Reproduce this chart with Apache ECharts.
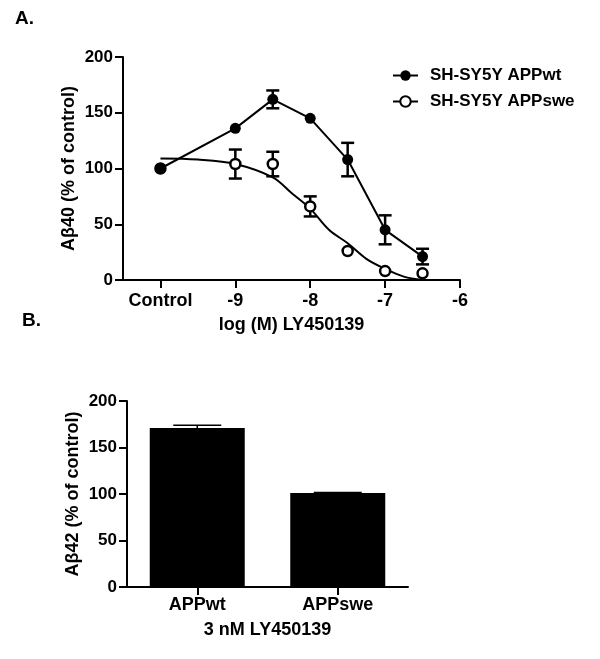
<!DOCTYPE html>
<html>
<head>
<meta charset="utf-8">
<script src="https://cdn.jsdelivr.net/npm/echarts@6/dist/echarts.min.js"></script>
<style>
html,body{margin:0;padding:0;background:#fff;}
#c{width:600px;height:659px;}
</style>
</head>
<body>
<div id="c"></div>
<script>
// ---- Panel A data ----
const tickValues = [-10, -9, -8, -7, -6];
const tickLabels = ['Control', '-9', '-8', '-7', '-6'];
const doseX = [-10, -9, -8.5, -8, -7.5, -7, -6.5];
const wtMean = [100, 136, 162, 145, 108, 45, 21];
const wtErr = [0, 0, 8, 0, 15, 13, 7];
const sweMean = [100, 104, 104, 66, 26, 8, 6];
const sweErr = [0, 13, 11, 9, 0, 0, 0];
const sweFitX = [-10, -9.5, -9, -8.5, -8.25, -8, -7.75, -7.5, -7.25, -7, -6.75, -6.5];
const sweFitY = [109, 108, 104, 92, 78, 64, 45, 33, 19, 10, 3, 0];

// ---- Panel B data ----
const barCats = ['APPwt', 'APPswe'];
const barMean = [171, 101];
const barErr = [3, 0.5];

const FONT = "'Liberation Sans', Arial, sans-serif";
const txt = {fontFamily: FONT, fontWeight: 'bold', color: '#000'};

function errRender(capW, lw, upOnly) {
  return function (params, api) {
    const x = api.value(0), lo = api.value(1), hi = api.value(2);
    const p1 = api.coord([x, lo]), p2 = api.coord([x, hi]);
    const st = {stroke: '#000', lineWidth: lw};
    const ch = [
      {type: 'line', shape: {x1: p1[0], y1: p1[1], x2: p2[0], y2: p2[1]}, style: st},
      {type: 'line', shape: {x1: p2[0] - capW / 2, y1: p2[1], x2: p2[0] + capW / 2, y2: p2[1]}, style: st}
    ];
    if (!upOnly) ch.push({type: 'line', shape: {x1: p1[0] - capW / 2, y1: p1[1], x2: p1[0] + capW / 2, y2: p1[1]}, style: st});
    return {type: 'group', children: ch};
  };
}

const wtErrData = [], sweErrData = [];
doseX.forEach((x, i) => {
  if (wtErr[i] > 0) wtErrData.push([x, wtMean[i] - wtErr[i], wtMean[i] + wtErr[i]]);
  if (sweErr[i] > 0) sweErrData.push([x, sweMean[i] - sweErr[i], sweMean[i] + sweErr[i]]);
});
const barErrData = barCats.map((c, i) => [i, barMean[i], barMean[i] + barErr[i]]);

const axisLine = {show: true, lineStyle: {color: '#000', width: 2}};
const axisTick = {show: true, length: 8, lineStyle: {color: '#000', width: 2}};

const chart = echarts.init(document.getElementById('c'), null, {renderer: 'canvas'});
chart.setOption({
  animation: false,
  backgroundColor: '#fff',
  textStyle: {fontFamily: FONT},
  graphic: [
    {type: 'text', left: 15, top: 9, style: {text: 'A.', fontSize: 19, fill: '#000', fontFamily: FONT, fontWeight: 'bold'}},
    {type: 'text', left: 22, top: 311, style: {text: 'B.', fontSize: 19, fill: '#000', fontFamily: FONT, fontWeight: 'bold'}}
  ],
  legend: {
    orient: 'vertical', left: 392, top: 67, padding: 0,
    itemWidth: 25, itemHeight: 13, itemGap: 9,
    data: ['SH-SY5Y APPwt', 'SH-SY5Y APPswe'],
    textStyle: Object.assign({fontSize: 17, padding: [0, 0, 0, 7]}, txt)
  },
  grid: [
    {left: 123, width: 337, top: 57, height: 223},
    {left: 127, width: 281, top: 401, height: 186}
  ],
  xAxis: [
    {
      type: 'value', gridIndex: 0, min: -10.5, max: -6,
      splitLine: {show: false},
      axisLine: axisLine, axisTick: Object.assign({customValues: tickValues}, axisTick),
      axisLabel: Object.assign({fontSize: 18, margin: 12, customValues: tickValues,
        formatter: v => tickLabels[tickValues.indexOf(v)]}, txt),
      name: 'log (M) LY450139', nameLocation: 'middle', nameGap: 36,
      nameTextStyle: Object.assign({fontSize: 18}, txt)
    },
    {
      type: 'category', gridIndex: 1, data: barCats,
      axisLine: axisLine, axisTick: Object.assign({alignWithLabel: true}, axisTick),
      axisLabel: Object.assign({fontSize: 18, margin: 9}, txt),
      name: '3 nM LY450139', nameLocation: 'middle', nameGap: 34,
      nameTextStyle: Object.assign({fontSize: 18}, txt)
    }
  ],
  yAxis: [
    {
      type: 'value', gridIndex: 0, min: 0, max: 200, interval: 50,
      splitLine: {show: false}, axisLine: axisLine, axisTick: axisTick,
      axisLabel: Object.assign({fontSize: 17, margin: 10}, txt),
      name: 'Aβ40 (% of control)', nameLocation: 'middle', nameGap: 45, nameRotate: 90,
      nameMoveOverlap: false,
      nameTextStyle: Object.assign({fontSize: 18}, txt)
    },
    {
      type: 'value', gridIndex: 1, min: 0, max: 200, interval: 50,
      splitLine: {show: false}, axisLine: axisLine, axisTick: axisTick,
      axisLabel: Object.assign({fontSize: 17, margin: 10}, txt),
      name: 'Aβ42 (% of control)', nameLocation: 'middle', nameGap: 45, nameRotate: 90,
      nameMoveOverlap: false,
      nameTextStyle: Object.assign({fontSize: 18}, txt)
    }
  ],
  series: [
    {
      type: 'custom', xAxisIndex: 0, yAxisIndex: 0, renderItem: errRender(13, 2.5, false),
      data: sweErrData, z: 2, silent: true
    },
    {
      type: 'custom', xAxisIndex: 0, yAxisIndex: 0, renderItem: errRender(13, 2.5, false),
      data: wtErrData, z: 2, silent: true
    },
    {
      name: 'SH-SY5Y APPswe', type: 'line', xAxisIndex: 0, yAxisIndex: 0,
      data: sweFitX.map((x, i) => [x, sweFitY[i]]),
      smooth: 0.35, symbol: 'emptyCircle', showSymbol: false, symbolSize: 10,
      lineStyle: {color: '#000', width: 2}, itemStyle: {color: '#000', borderWidth: 2}, z: 3
    },
    {
      type: 'scatter', xAxisIndex: 0, yAxisIndex: 0,
      data: doseX.map((x, i) => [x, sweMean[i]]),
      symbol: 'circle', symbolSize: 10,
      itemStyle: {color: '#fff', borderColor: '#000', borderWidth: 2.5, opacity: 1}, z: 4
    },
    {
      name: 'SH-SY5Y APPwt', type: 'line', xAxisIndex: 0, yAxisIndex: 0,
      data: doseX.map((x, i) => [x, wtMean[i]]),
      symbol: 'circle', symbolSize: 11, showSymbol: true,
      lineStyle: {color: '#000', width: 2}, itemStyle: {color: '#000'}, z: 5
    },
    {
      type: 'bar', xAxisIndex: 1, yAxisIndex: 1, data: barMean, barWidth: 95,
      itemStyle: {color: '#000'}, z: 2
    },
    {
      type: 'custom', xAxisIndex: 1, yAxisIndex: 1, renderItem: errRender(48, 1.5, true),
      data: barErrData, z: 3, silent: true
    }
  ]
});
</script>
</body>
</html>
